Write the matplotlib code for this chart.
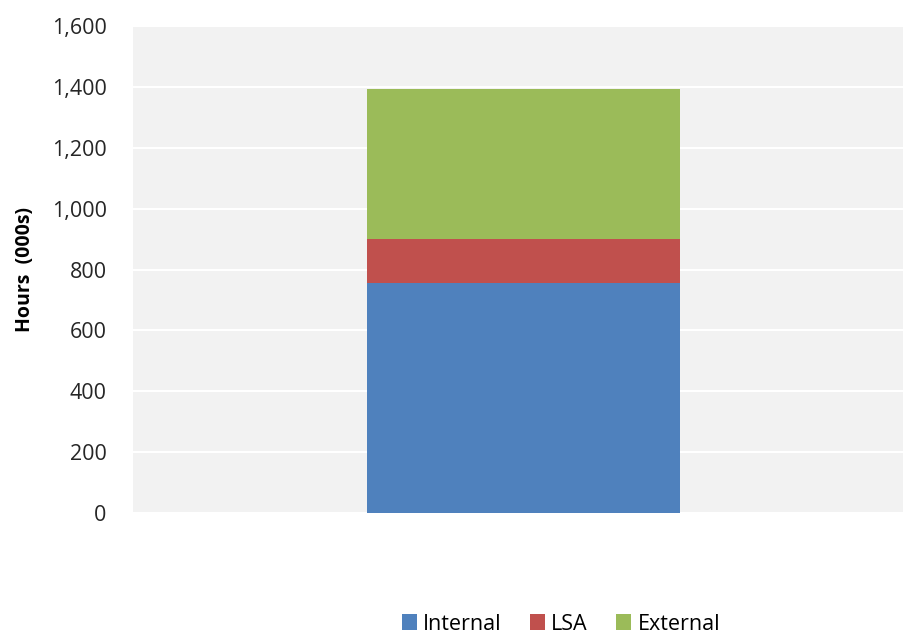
import matplotlib
matplotlib.use("Agg")
import matplotlib.pyplot as plt
from matplotlib.ticker import FuncFormatter, MultipleLocator

plt.rcParams['font.family'] = ['Open Sans', 'DejaVu Sans']

categories = [""]
series_names = ["Internal", "LSA", "External"]
internal = [757]
lsa = [143]
external = [492]
colors = ["#4F81BD", "#C0504D", "#9BBB59"]

fig = plt.figure(figsize=(9.04, 6.34), dpi=100)
ax = fig.add_axes([133/904, 1-513/634, (904-133)/904, (513-26)/634])
ax.set_facecolor("#F2F2F2")

x = [0]
bottom = [0]
for name, vals, c in zip(series_names, [internal, lsa, external], colors):
    ax.bar(x, vals, bottom=bottom, width=0.406, color=c, label=name, zorder=3)
    bottom = [b + v for b, v in zip(bottom, vals)]

ax.set_xlim(-0.507, 0.493)
ax.set_ylim(0, 1600)
ax.yaxis.set_major_locator(MultipleLocator(200))
ax.yaxis.set_major_formatter(FuncFormatter(lambda v, p: f"{int(v):,}"))
ax.grid(axis='y', color='white', linewidth=1.5, zorder=0)
ax.set_xticks([])
for s in ax.spines.values():
    s.set_visible(False)
ax.tick_params(axis='y', length=0, labelsize=15.5, colors='#262626', pad=19)
ax.set_ylabel("Hours  (000s)", fontsize=14, fontweight='bold', labelpad=12)

leg = ax.legend(loc='center', bbox_to_anchor=(0.555, -0.228), ncol=3, frameon=False,
          fontsize=15.5, handlelength=0.7, handleheight=0.7, handletextpad=0.3, columnspacing=1.3)

fig.savefig("out.png", dpi=100)
